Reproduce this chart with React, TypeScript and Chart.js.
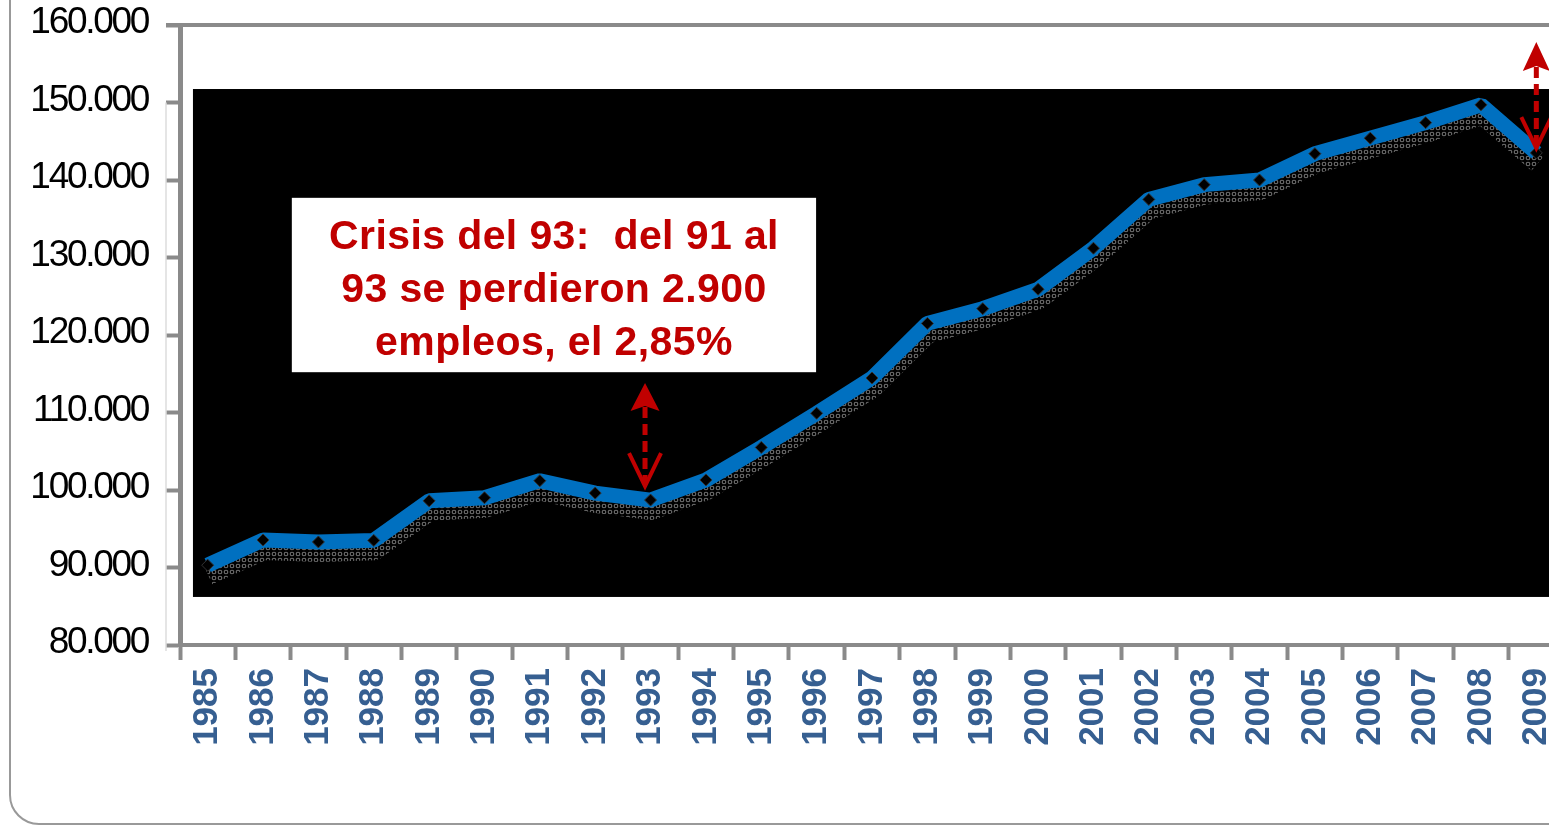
import React, { useEffect, useRef } from "react";
import { Chart, registerables } from "chart.js";

Chart.register(...registerables);

const years = [
  "1985", "1986", "1987", "1988", "1989", "1990", "1991", "1992", "1993", "1994",
  "1995", "1996", "1997", "1998", "1999", "2000", "2001", "2002", "2003", "2004",
  "2005", "2006", "2007", "2008", "2009",
];

const employment = [
  90300, 93550, 93300, 93500, 98600, 99000, 101200, 99600, 98700, 101300,
  105500, 109900, 114450, 121500, 123400, 125900, 131200, 137500, 139400, 140000,
  143400, 145400, 147400, 149700, 143500,
];

const yTickValues = [80000, 90000, 100000, 110000, 120000, 130000, 140000, 150000, 160000];

const annotationLines = ["Crisis del 93:  del 91 al", "93 se perdieron 2.900", "empleos, el 2,85%"];

// annotation box in data space (category index / value)
const annotationBox = { fromIndex: 1.52, toIndex: 10.99, top: 137700, bottom: 115200 };

// double arrows: category index, tip value, bottom value
const arrowMarks = [
  { index: 7.9, from: 113800, to: 100500 },
  { index: 24.0, from: 157800, to: 144100 },
];

// black plot panel in data space
const panel = { fromIndex: -0.266, top: 151740, bottom: 86200 };

const fmt = (v: number) => v.toString().replace(/\B(?=(\d{3})+(?!\d))/g, ".");

function drawArrow(ctx: CanvasRenderingContext2D, x: number, yTip: number, yBottom: number, headLen: number, headW: number, vLen: number, vHalf: number) {
  ctx.save();
  ctx.strokeStyle = "#C00000";
  ctx.fillStyle = "#C00000";
  ctx.beginPath();
  ctx.moveTo(x, yTip);
  ctx.lineTo(x + headW / 2, yTip + headLen);
  ctx.lineTo(x, yTip + headLen - 5);
  ctx.lineTo(x - headW / 2, yTip + headLen);
  ctx.closePath();
  ctx.fill();
  ctx.lineWidth = 5;
  ctx.setLineDash([11, 6]);
  ctx.beginPath();
  ctx.moveTo(x, yTip + headLen - 4);
  ctx.lineTo(x, yBottom - 3);
  ctx.stroke();
  ctx.setLineDash([]);
  ctx.lineWidth = 4;
  ctx.lineJoin = "miter";
  ctx.beginPath();
  ctx.moveTo(x - vHalf, yBottom - vLen);
  ctx.lineTo(x, yBottom);
  ctx.lineTo(x + vHalf, yBottom - vLen);
  ctx.stroke();
  ctx.restore();
}

const decorPlugin = {
  id: "decor",
  beforeDatasetsDraw(chart: any) {
    const { ctx, scales } = chart;
    const xs = scales.x;
    const ys = scales.y;
    const l = xs.getPixelForValue(panel.fromIndex);
    const t = ys.getPixelForValue(panel.top);
    const b = ys.getPixelForValue(panel.bottom);
    ctx.save();
    ctx.fillStyle = "#000";
    ctx.fillRect(l, t, chart.width - l, b - t);
    ctx.restore();
  },
  beforeDatasetDraw(chart: any, args: any) {
    if (args.index === 1) {
      chart.ctx.save();
      chart.ctx.translate(1, 11);
    }
  },
  afterDatasetDraw(chart: any, args: any) {
    if (args.index === 1) chart.ctx.restore();
  },
  afterDraw(chart: any) {
    const { ctx, chartArea, scales } = chart;
    const xs = scales.x;
    const ys = scales.y;
    ctx.save();
    // top frame line
    ctx.strokeStyle = "#8a8a8a";
    ctx.lineWidth = 4;
    ctx.beginPath();
    ctx.moveTo(chartArea.left - 14, chartArea.top);
    ctx.lineTo(chart.width, chartArea.top);
    ctx.stroke();
    // faint guide line
    ctx.strokeStyle = "#dcdcdc";
    ctx.lineWidth = 1.5;
    ctx.beginPath();
    ctx.moveTo(chartArea.left - 14, ys.getPixelForValue(150000));
    ctx.lineTo(chartArea.left - 14, chartArea.bottom + 6);
    ctx.stroke();

    // y tick labels
    ctx.fillStyle = "#000";
    ctx.font = '37px "Liberation Sans", Arial, sans-serif';
    (ctx as any).letterSpacing = "-2.3px";
    ctx.textAlign = "right";
    ctx.textBaseline = "middle";
    for (const v of yTickValues) {
      ctx.fillText(fmt(v), chartArea.left - 32, ys.getPixelForValue(v) - 2);
    }
    (ctx as any).letterSpacing = "0px";

    // annotation box
    const bl = xs.getPixelForValue(annotationBox.fromIndex);
    const br = xs.getPixelForValue(annotationBox.toIndex);
    const bt = ys.getPixelForValue(annotationBox.top);
    const bb = ys.getPixelForValue(annotationBox.bottom);
    ctx.fillStyle = "#fff";
    ctx.fillRect(bl, bt, br - bl, bb - bt);
    ctx.fillStyle = "#C00000";
    ctx.font = 'bold 41px "Liberation Sans", Arial, sans-serif';
    (ctx as any).letterSpacing = "0.4px";
    ctx.textAlign = "center";
    ctx.textBaseline = "alphabetic";
    const cx = (bl + br) / 2;
    annotationLines.forEach((line, i) => {
      ctx.fillText(line, cx, bt + 51 + i * 53);
    });
    (ctx as any).letterSpacing = "0px";
    ctx.restore();

    // arrows
    arrowMarks.forEach((a, i) => {
      const x = xs.getPixelForValue(a.index);
      const y1 = ys.getPixelForValue(a.from);
      const y2 = ys.getPixelForValue(a.to);
      if (i === 0) drawArrow(ctx, x, y1, y2, 28, 29, 33, 16);
      else drawArrow(ctx, x, y1, y2, 29, 27, 31, 15);
    });
  },
};

function makeDotPattern(): CanvasPattern | string {
  const c = document.createElement("canvas");
  c.width = 6;
  c.height = 6;
  const g = c.getContext("2d");
  if (!g) return "#555";
  g.strokeStyle = "#707070";
  g.lineWidth = 1.1;
  g.beginPath();
  g.arc(3, 3, 1.8, 0, Math.PI * 2);
  g.stroke();
  const p = g.createPattern(c, "repeat");
  return p || "#555";
}

export default function App() {
  const ref = useRef<HTMLCanvasElement | null>(null);

  useEffect(() => {
    if (!ref.current) return;
    const pattern = makeDotPattern();
    const chart = new Chart(ref.current, {
      type: "line",
      data: {
        labels: years,
        datasets: [
          {
            data: employment,
            borderColor: "#0070C0",
            borderWidth: 15,
            borderJoinStyle: "bevel",
            borderCapStyle: "butt",
            pointStyle: "rectRot",
            pointRadius: 6,
            pointBackgroundColor: "#000",
            pointBorderColor: "#333",
            pointBorderWidth: 1,
            tension: 0,
            order: 0,
            clip: false,
          } as any,
          {
            data: employment,
            borderColor: pattern as any,
            borderWidth: 18,
            borderJoinStyle: "bevel",
            pointRadius: 0,
            tension: 0,
            order: 1,
            clip: false,
          } as any,
        ],
      },
      options: {
        responsive: false,
        animation: false,
        devicePixelRatio: 1,
        events: [],
        layout: { padding: { top: 25, right: 36, left: 0, bottom: 0 } },
        plugins: { legend: { display: false }, tooltip: { enabled: false } },
        scales: {
          x: {
            offset: true,
            grid: {
              offset: true,
              drawOnChartArea: false,
              drawTicks: true,
              tickLength: 15,
              tickWidth: 4,
              tickColor: "#8a8a8a",
            },
            border: { color: "#8a8a8a", width: 4 },
            ticks: {
              minRotation: 90,
              maxRotation: 90,
              autoSkip: false,
              padding: 8,
              color: "#365F91",
              font: { family: '"Liberation Sans", Arial, sans-serif', size: 35, weight: "bold" },
            },
            afterFit: (s: any) => {
              s.height = 181;
            },
          },
          y: {
            min: 80000,
            max: 160000,
            afterBuildTicks: (s: any) => {
              s.ticks = yTickValues.map((v) => ({ value: v }));
            },
            grid: {
              drawOnChartArea: false,
              drawTicks: true,
              tickLength: 14,
              tickWidth: 4,
              tickColor: "#8a8a8a",
            },
            border: { color: "#8a8a8a", width: 5 },
            ticks: { display: false },
            afterFit: (s: any) => {
              s.width = 180;
            },
          },
        },
      } as any,
      plugins: [decorPlugin as any],
    });
    return () => chart.destroy();
  }, []);

  return (
    <div style={{ position: "fixed", left: 0, top: 0, width: 1549, height: 826, overflow: "hidden", background: "#fff" }}>
      <canvas ref={ref} width={1600} height={826} style={{ position: "absolute", left: 0, top: 0, width: 1600, height: 826 }} />
      <div
        style={{
          position: "absolute",
          left: 9,
          top: -100,
          width: 1700,
          height: 925,
          border: "2px solid #999",
          borderRadius: 30,
          boxSizing: "border-box",
          pointerEvents: "none",
        }}
      />
    </div>
  );
}
